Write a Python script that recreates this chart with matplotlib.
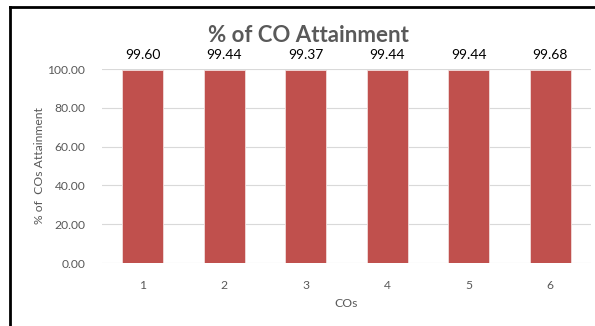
import matplotlib.pyplot as plt
from matplotlib.lines import Line2D

cos = ['1', '2', '3', '4', '5', '6']
attainment = [99.60, 99.44, 99.37, 99.44, 99.44, 99.68]
yticks = [0, 20, 40, 60, 80, 100]

plt.rcParams['font.family'] = ['Lato', 'DejaVu Sans']

fig = plt.figure(figsize=(5.95, 3.26), dpi=100)
ax = fig.add_axes([102 / 595, 1 - 263 / 326, 489 / 595, 194 / 326])

x = range(len(cos))
bars = ax.bar(x, attainment, width=0.5, color='#C0504D', edgecolor='#F2DCDB', linewidth=0.6, zorder=3)
for b, v in zip(bars, attainment):
    ax.text(b.get_x() + b.get_width() / 2, 104, f'{v:.2f}', ha='center', va='bottom',
            fontsize=10, color='black', clip_on=False)

ax.set_xlim(-0.5, len(cos) - 0.5)
ax.set_ylim(0, 100)
ax.set_yticks(yticks)
ax.set_yticklabels([f'{t:.2f}' for t in yticks])
ax.set_xticks(list(x))
ax.set_xticklabels(cos)
ax.tick_params(length=0, labelsize=8.7, colors='#595959')
ax.tick_params(axis='x', pad=12)
ax.tick_params(axis='y', pad=12)
ax.grid(axis='y', color='#D9D9D9', linewidth=0.8, zorder=0)
for s in ax.spines.values():
    s.set_visible(False)

ax.set_xlabel('COs', fontsize=8.7, color='#595959', labelpad=5)
ax.set_ylabel('% of  COs Attainment', fontsize=8.7, color='#595959', labelpad=2)
fig.text(0.518, 1 - 35 / 326, '% of CO Attainment', ha='center', va='center',
         fontsize=16, fontweight='bold', color='#595959')

# outer frame (left and top only)
fig.add_artist(Line2D([9.5 / 595, 9.5 / 595], [0, 1 - 7 / 326], color='black', linewidth=2))
fig.add_artist(Line2D([9.5 / 595, 1], [1 - 7 / 326, 1 - 7 / 326], color='black', linewidth=2))

fig.savefig('out.png', dpi=100)
